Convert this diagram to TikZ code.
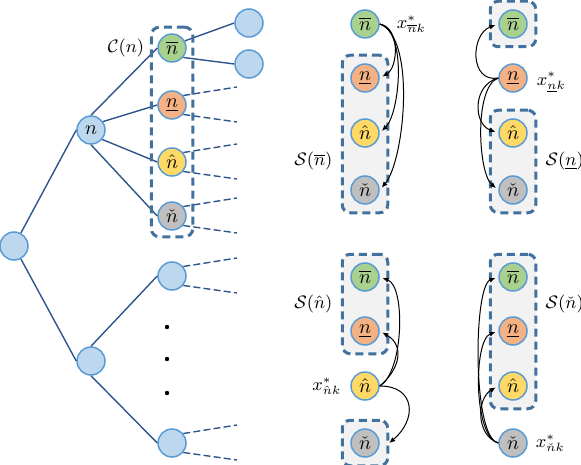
\documentclass[tikz,border=0pt]{standalone}
\usepackage{amsmath,amssymb}
\usetikzlibrary{positioning,arrows.meta,fit,calc,backgrounds}
\definecolor{bordbleu}{RGB}{91,155,213}
\definecolor{fondbleu}{RGB}{189,215,238}
\definecolor{trait}{RGB}{46,84,140}
\definecolor{cadre}{RGB}{65,113,156}
\definecolor{fondgris}{RGB}{242,242,242}
\definecolor{cVert}{RGB}{169,209,142}
\definecolor{cOrange}{RGB}{244,177,131}
\definecolor{cJaune}{RGB}{255,217,102}
\definecolor{cGris}{RGB}{191,191,191}
\newcommand{\nBar}{\overline{n}}
\newcommand{\nSous}{\underline{n}}
\newcommand{\nHat}{\hat{n}}
\newcommand{\nCheck}{\check{n}}
\tikzset{
  noeud/.style={circle, draw=bordbleu, line width=0.75pt, fill=#1,
    minimum size=14pt, inner sep=0pt, font=\normalsize},
  noeud/.default=fondbleu,
  etiq/.style={font=\small},
  arete/.style={draw=trait, line width=0.7pt},
  pointille/.style={arete, dash pattern=on 3.5pt off 1.6pt},
  groupe/.style={draw=cadre, line width=1.5pt, dash pattern=on 4pt off 2.5pt,
    rounded corners=4pt, inner sep=#1},
  groupe/.default=4pt,
  fleche/.style={-{Latex[length=3pt,width=2.6pt]}, line width=0.5pt, shorten >=1.5pt},
}

\begin{document}
\begin{tikzpicture}[x=0.5pt, y=0.5pt]
  \useasboundingbox (0,0) rectangle (581,-464);
  % arbre
  \node[noeud] (racine) at (14,-246) {};
  \node[noeud] (n) at (91,-130) {$n$};
  \node[noeud] (m) at (91,-361) {};
  \node[noeud=cVert] (c1) at (172,-48) {$\nBar$};
  \node[noeud=cOrange] (c2) at (172,-105) {$\nSous$};
  \node[noeud=cJaune] (c3) at (172,-162) {$\nHat$};
  \node[noeud=cGris] (c4) at (172,-216) {$\nCheck$};
  \node[noeud] (b1) at (172,-276) {};
  \node[noeud] (b2) at (172,-443) {};
  \node[noeud] (f1) at (249,-23) {};
  \node[noeud] (f2) at (249,-64) {};
  \draw[arete] (racine.62) -- (n.west);
  \draw[arete] (racine.-62) -- (m.west);
  \draw[arete] (n.north) -- (c1.west);
  \draw[arete] (n.35) -- (c2.west);
  \draw[arete] (n.-40) -- (c3.west);
  \draw[arete] (n.south) -- (c4.west);
  \draw[arete] (m.north) -- (b1.west);
  \draw[arete] (m.south) -- (b2.west);
  \draw[arete] (c1.29) -- (f1.west);
  \draw[arete] (c1.-40) -- (f2.west);
  \foreach \nd in {c2,c3,c4,b1,b2} {
    \path (\nd) ++(65,18) coordinate (\nd-h) ++(0,-35) coordinate (\nd-b);
    \draw[pointille] (\nd.40) -- (\nd-h);
    \draw[pointille] (\nd.-40) -- (\nd-b);
  }
  \node[groupe=3pt, fit=(c1)(c4)] (cn) {};
  \node[etiq, left=3pt of c1] {$\mathcal{C}(n)$};
  \foreach \py in {327,359,393}
    \fill (167,-\py) circle (1.1pt);
  % les quatre cas
  \foreach \pn/\px/\dy in {A/365/0, B/513/0, C/365/253, D/513/253} {
    \node[noeud=cVert] (\pn1) at (\px,-24-\dy) {$\nBar$};
    \node[noeud=cOrange] (\pn2) at (\px,-78-\dy) {$\nSous$};
    \node[noeud=cJaune] (\pn3) at (\px,-133-\dy) {$\nHat$};
    \node[noeud=cGris] (\pn4) at (\px,-190-\dy) {$\nCheck$};
  }
  \begin{scope}[on background layer]
    \node[groupe, fill=fondgris, fit=(A2)(A4)] (gA) {};
    \node[groupe, fill=fondgris, fit=(B1)] (gB1) {};
    \node[groupe, fill=fondgris, fit=(B3)(B4)] (gB) {};
    \node[groupe, fill=fondgris, fit=(C1)(C2)] (gC) {};
    \node[groupe, fill=fondgris, fit=(C4)] (gC4) {};
    \node[groupe, fill=fondgris, fit=(D1)(D3)] (gD) {};
  \end{scope}
  \node[etiq, right=5pt of A1] {$x^*_{\nBar k}$};
  \node[etiq, right=1pt of B2, yshift=-2pt] {$x^*_{\nSous k}$};
  \node[etiq, left=1pt of C3] {$x^*_{\nHat k}$};
  \node[etiq, right=0.5pt of D4] {$x^*_{\nCheck k}$};
  \coordinate (sA) at ($(A3)!.5!(A4)$);
  \coordinate (sB) at ($(B3)!.5!(B4)$);
  \coordinate (sC) at ($(C1)!.5!(C2)$);
  \coordinate (sD) at ($(D1)!.5!(D2)$);
  \node[etiq, anchor=east, xshift=-4pt, inner sep=0pt] at (gA.west |- sA) {$\mathcal{S}(\nBar)$};
  \node[etiq, anchor=west, xshift=4pt, inner sep=0pt] at (gB.east |- sB) {$\mathcal{S}(\nSous)$};
  \node[etiq, anchor=east, xshift=-4pt, inner sep=0pt] at (gC.west |- sC) {$\mathcal{S}(\nHat)$};
  \node[etiq, anchor=west, xshift=4pt, inner sep=0pt] at (gD.east |- sD) {$\mathcal{S}(\nCheck)$};
  % fleches
  \draw[fleche] (A1.east) to[out=-10, in=30] (A2.east);
  \draw[fleche] (A1.east) to[out=-15, in=45, looseness=0.67] (A3.east);
  \draw[fleche] (A1.east) to[out=-20, in=50, looseness=0.6] (A4.east);
  \draw[fleche] (B2.west) to[out=190, in=200, looseness=1.4] (B1.west);
  \draw[fleche] (B2.west) to[out=195, in=160, looseness=1.25] (B3.west);
  \draw[fleche] (B2.west) to[out=200, in=140, looseness=0.6] (B4.west);
  \draw[fleche] (C3.east) to[out=30, in=-20, looseness=0.65] (C1.east);
  \draw[fleche] (C3.east) to[out=40, in=-30, looseness=1.3] (C2.east);
  \draw[fleche, shorten >=0pt] (C3.east) to[out=0, in=40, looseness=1.6] (gC4.east);
  \draw[fleche] (D4.west) to[out=170, in=200, looseness=0.41] (D1.west);
  \draw[fleche] (D4.west) to[out=165, in=200, looseness=0.6] (D2.west);
  \draw[fleche] (D4.west) to[out=160, in=210, looseness=1.1] (D3.west);
\end{tikzpicture}
\end{document}
